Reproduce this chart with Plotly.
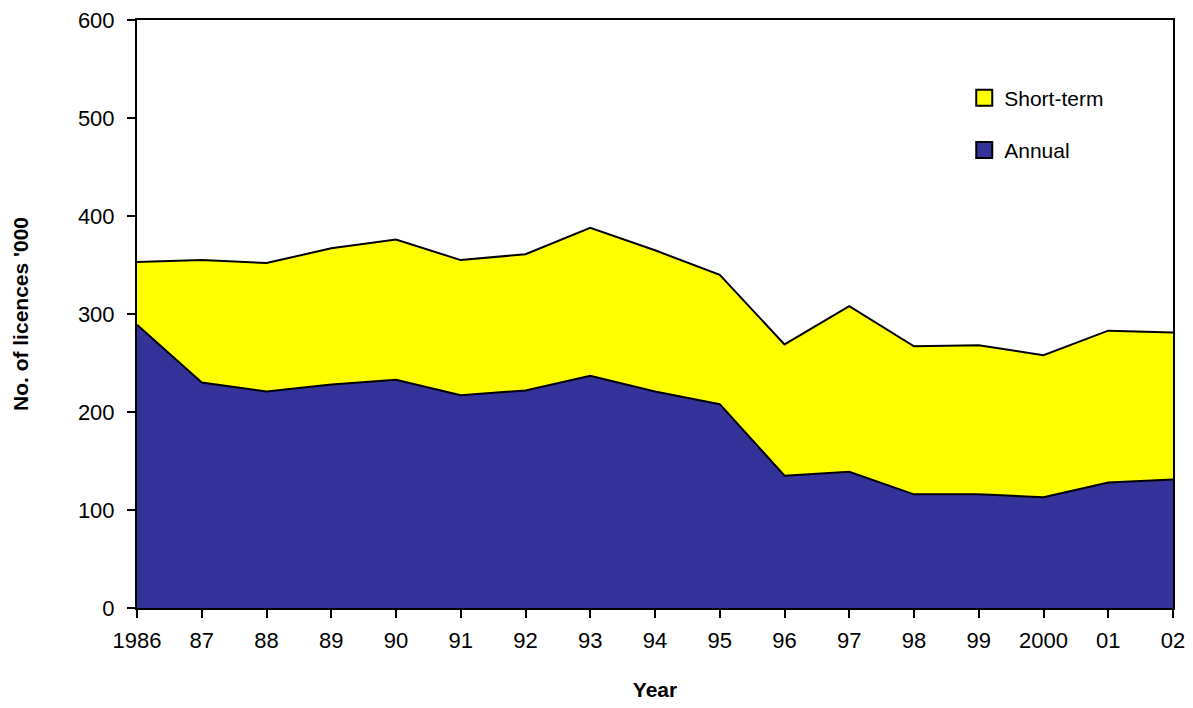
import plotly.graph_objects as go

years = list(range(1986, 2003))
tick_labels = ["1986", "87", "88", "89", "90", "91", "92", "93", "94", "95",
               "96", "97", "98", "99", "2000", "01", "02"]
annual = [289, 230, 221, 228, 233, 217, 222, 237, 221, 208,
          135, 139, 116, 116, 113, 128, 131]
total = [353, 355, 352, 367, 376, 355, 361, 388, 365, 340,
         269, 308, 267, 268, 258, 283, 281]
short_term = [t - a for t, a in zip(total, annual)]

FONT = "Liberation Sans, Arial, sans-serif"
BLUE = "#333399"
YELLOW = "#ffff00"

fig = go.Figure()
fig.add_trace(go.Scatter(x=years, y=annual, stackgroup="s", mode="lines",
                         line=dict(color="black", width=2), fillcolor=BLUE,
                         name="Annual", showlegend=False))
fig.add_trace(go.Scatter(x=years, y=short_term, stackgroup="s", mode="lines",
                         line=dict(color="black", width=2), fillcolor=YELLOW,
                         name="Short-term", showlegend=False))
# legend entries
fig.add_trace(go.Scatter(x=[None], y=[None], mode="markers", name="Short-term",
                         legendgroup="b", legendrank=1,
                         marker=dict(symbol="square", size=16, color=YELLOW,
                                     line=dict(color="black", width=2))))
fig.add_trace(go.Scatter(x=[None], y=[None], mode="markers", name="Annual",
                         legendgroup="a", legendrank=2,
                         marker=dict(symbol="square", size=16, color=BLUE,
                                     line=dict(color="black", width=2))))

fig.update_layout(
    width=1193, height=708,
    margin=dict(l=137, r=20, t=20, b=100, autoexpand=False),
    paper_bgcolor="white", plot_bgcolor="white",
    font=dict(family=FONT, size=22, color="black"),
    showlegend=True,
    legend=dict(x=0.7985, y=0.902, xanchor="left", yanchor="top",
                traceorder="grouped", tracegroupgap=22,
                bgcolor="rgba(0,0,0,0)", font=dict(size=21),
                itemwidth=30),
    xaxis=dict(range=[1986, 2002], tickvals=years, ticktext=tick_labels,
               showline=True, linecolor="black", linewidth=2, mirror=True,
               ticks="outside", ticklen=8, tickwidth=2, tickcolor="black",
               ticklabelstandoff=4,
               showgrid=False, zeroline=False, automargin=False,
               title=dict(text="<b>Year</b>", font=dict(size=21), standoff=30)),
    yaxis=dict(range=[0, 600], tickvals=[0, 100, 200, 300, 400, 500, 600],
               showline=True, linecolor="black", linewidth=2, mirror=True,
               ticks="outside", ticklen=8, tickwidth=2, tickcolor="black",
               ticklabelstandoff=8,
               showgrid=False, zeroline=False, automargin=False,
               title=dict(text="<b>No. of licences '000</b>", font=dict(size=21), standoff=44)),
)

fig.write_html("out.html", config={"displayModeBar": False},
               post_script="document.body.style.margin='0';")
